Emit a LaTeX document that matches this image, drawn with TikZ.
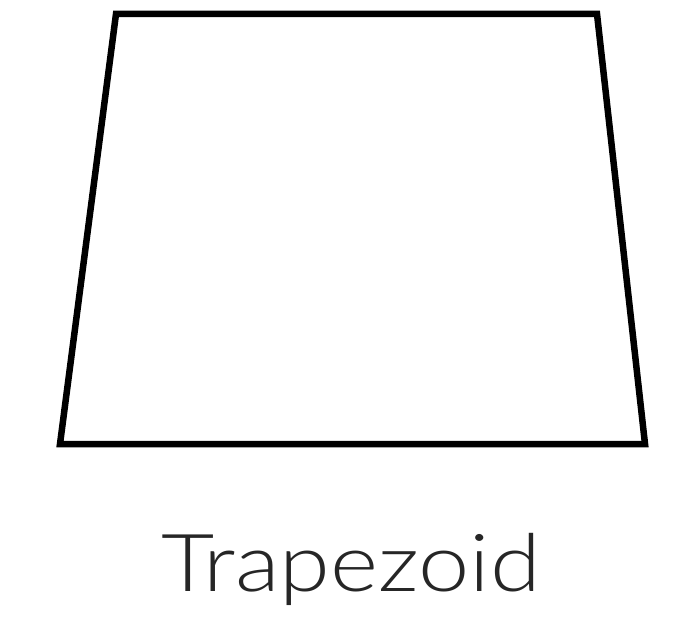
\documentclass[tikz,border=0pt]{standalone}
\usepackage{fontspec}
\setmainfont{Lato Light}
\usepackage{tikz}
\usetikzlibrary{positioning}

\begin{document}
\begin{tikzpicture}[x=1pt, y=-1pt, line join=miter]
   \useasboundingbox (0,0) rectangle (700,620);
   \coordinate (tl) at (116,14);
   \coordinate (tr) at (597,14);
   \coordinate (br) at (645,444);
   \coordinate (bl) at (60,444);
   \draw (tl) -- (tr) -- (br) -- (bl) -- cycle [line width=6.5pt];
   \node[text=black!85, font=\fontsize{80}{80}\selectfont, anchor=base, xscale=1.15] (title) at (351,591) {Trapezoid};
\end{tikzpicture}
\end{document}
